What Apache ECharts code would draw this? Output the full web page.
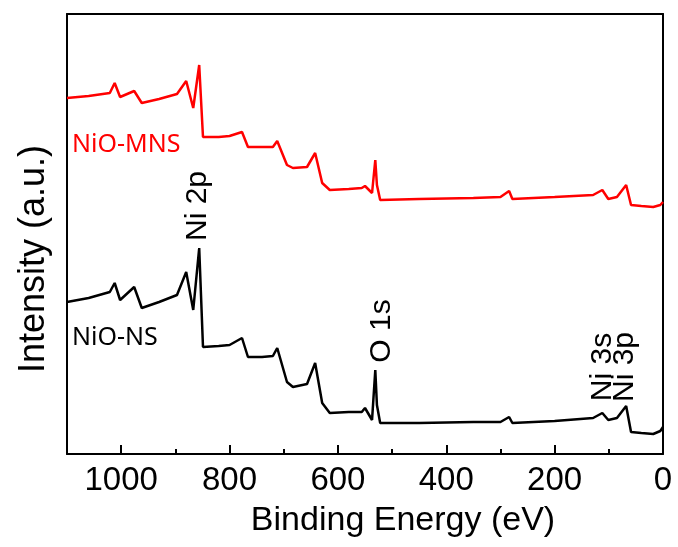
<!DOCTYPE html>
<html>
<head>
<meta charset="utf-8">
<script src="https://cdn.jsdelivr.net/npm/echarts@6/dist/echarts.min.js"></script>
<style>
  html, body { margin: 0; padding: 0; background: #fff; }
  #chart { width: 678px; height: 547px; }
</style>
</head>
<body>
<div id="chart"></div>
<script>
// binding energy (eV), shared by both spectra
var energy = [1100, 1060, 1021, 1012, 1002, 976, 962, 930, 897, 880,
              867, 856, 849, 820, 800, 777, 766, 740, 720, 712,
              694, 683, 657, 642, 629, 615, 580, 556, 550, 537,
              531, 528, 522, 450, 350, 300, 284, 278, 200, 129,
              112, 101, 85, 68, 59, 40, 18, 5, 0];
// intensity (a.u.), offset spectra
var mnsIntensity = [356, 358, 361, 371, 357, 363, 351, 355, 360, 373,
                    346, 389, 317, 317, 318, 322, 307, 307, 307, 313,
                    289, 286, 287, 301, 271, 264, 265, 266, 268, 261,
                    294, 269, 254, 255, 256, 257, 263, 255, 257, 259,
                    264, 255, 257, 269, 249, 248, 247, 249, 252];
var nsIntensity = [152, 156, 162, 171, 154, 167, 146, 152, 159, 182,
                   144, 206, 107, 108, 109, 116, 97, 97, 98, 106,
                   72, 67, 70, 91, 51, 41, 42, 42, 46, 34,
                   84, 49, 31, 31, 32, 32, 37, 31, 33, 36,
                   41, 34, 36, 48, 22, 21, 20, 23, 27];

function pairs(ys) {
    return energy.map(function (e, i) { return [e, ys[i]]; });
}

var chart = echarts.init(document.getElementById('chart'));
var axisFont = 'Liberation Sans, Arial, sans-serif';
var noSplit = { show: true, lineStyle: { color: 'rgba(0,0,0,0)' } };

var option = {
    animation: false,
    grid: { left: 67, right: 15, top: 14, bottom: 93 },
    xAxis: [
        {
            type: 'value', min: 0, max: 1100, interval: 200, inverse: true,
            axisLine: { onZero: false, lineStyle: { color: '#000', width: 2 } },
            axisTick: { show: true, inside: true, length: 9, lineStyle: { color: '#000', width: 2 } },
            minorTick: { show: true, splitNumber: 2, length: 5, lineStyle: { color: '#000', width: 2 } },
            axisLabel: {
                color: '#000', fontSize: 33, fontFamily: axisFont, margin: 10,
                formatter: function (v) { return v > 1000 ? '' : String(v); }
            },
            splitLine: noSplit
        },
        {
            // top frame line
            type: 'value', min: 0, max: 1100, inverse: true, position: 'top',
            axisLine: { onZero: false, lineStyle: { color: '#000', width: 2 } },
            axisTick: { show: false }, axisLabel: { show: false }, splitLine: { show: false }
        }
    ],
    yAxis: [
        {
            type: 'value', min: 0, max: 440, position: 'left',
            axisLine: { show: true, onZero: false, lineStyle: { color: '#000', width: 2 } },
            axisTick: { show: false }, axisLabel: { show: false }, splitLine: { show: false }
        },
        {
            // right frame line
            type: 'value', min: 0, max: 440, position: 'right',
            axisLine: { show: true, onZero: false, lineStyle: { color: '#000', width: 2 } },
            axisTick: { show: false }, axisLabel: { show: false }, splitLine: { show: false }
        }
    ],
    series: [
        {
            name: 'NiO-MNS', type: 'line', data: pairs(mnsIntensity),
            showSymbol: false, lineStyle: { color: '#ff0000', width: 2.5 }
        },
        {
            name: 'NiO-NS', type: 'line', data: pairs(nsIntensity),
            showSymbol: false, lineStyle: { color: '#000', width: 2.5 }
        }
    ],
    graphic: [
        { type: 'text', x: 403, y: 521, style: { text: 'Binding Energy (eV)', fill: '#000', font: '34px ' + axisFont, textAlign: 'center', textVerticalAlign: 'middle' } },
        { type: 'text', x: 34, y: 259, rotation: Math.PI / 2, style: { text: 'Intensity (a.u.)', fill: '#000', font: '36px ' + axisFont, textAlign: 'center', textVerticalAlign: 'middle' } },
        { type: 'text', x: 72, y: 145, style: { text: 'NiO-MNS', fill: '#ff0000', font: '25px "Noto Sans", sans-serif', textVerticalAlign: 'middle' } },
        { type: 'text', x: 72, y: 338, style: { text: 'NiO-NS', fill: '#000', font: '25px "Noto Sans", sans-serif', textVerticalAlign: 'middle' } },
        { type: 'text', x: 198, y: 206, rotation: Math.PI / 2, style: { text: 'Ni 2p', fill: '#000', font: '30px ' + axisFont, textAlign: 'center', textVerticalAlign: 'middle' } },
        { type: 'text', x: 382, y: 331, rotation: Math.PI / 2, style: { text: 'O 1s', fill: '#000', font: '30px ' + axisFont, textAlign: 'center', textVerticalAlign: 'middle' } },
        { type: 'text', x: 603, y: 367, rotation: Math.PI / 2, style: { text: 'Ni 3s', fill: '#000', font: '30px ' + axisFont, textAlign: 'center', textVerticalAlign: 'middle' } },
        { type: 'text', x: 625, y: 367, rotation: Math.PI / 2, style: { text: 'Ni 3p', fill: '#000', font: '30px ' + axisFont, textAlign: 'center', textVerticalAlign: 'middle' } }
    ]
};
chart.setOption(option);
</script>
</body>
</html>
